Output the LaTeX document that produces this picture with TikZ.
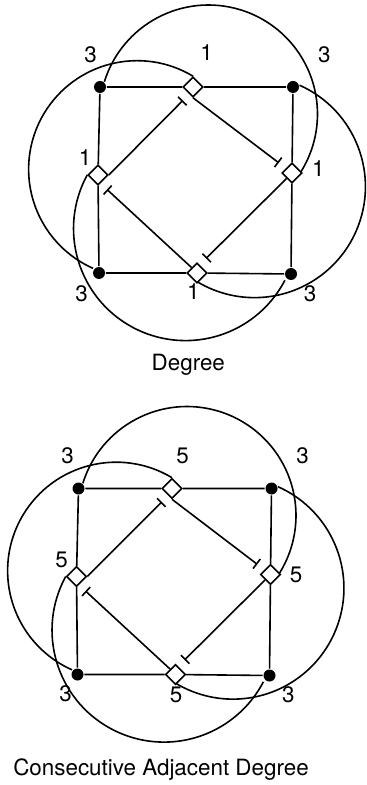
\documentclass[tikz,border=0pt]{standalone}
\usepackage{fontspec}
\setmainfont{TeX Gyre Heros}
\usetikzlibrary{shapes.geometric,arrows.meta}
\begin{document}
\begin{tikzpicture}[x=0.5pt, y=-0.5pt, line width=0.8pt,
  every node/.style={font=\fontsize{11.2}{13}\selectfont, inner sep=0pt},
  blob/.style={circle, fill=black, minimum size=6pt},
  gem/.style={diamond, draw, fill=white, minimum size=10pt},
  bar/.style={-{Bar[width=6pt]}, shorten >=4.5pt}]
\useasboundingbox (0,0) rectangle (366,785);
% Degree graph
\node[blob] (atl) at (100,87) {}; \node[blob] (atr) at (293,87) {};
\node[blob] (abl) at (99,273) {}; \node[blob] (abr) at (291,274) {};
\node[gem] (at) at (193,87) {}; \node[gem] (al) at (98,175) {};
\node[gem] (ar) at (292,173) {}; \node[gem] (ab) at (197,273) {};
\draw (atl) -- (at) -- (atr) -- (ar) -- (abr) -- (ab) -- (abl) -- (al) -- (atl);
\draw[bar] (al.east) -- (at.242); \draw[bar] (at.south) -- (ar.142);
\draw[bar] (ar.south west) -- (ab.72); \draw[bar] (ab.north west) -- (al.286);
% loops round the square
\draw (atl.50) arc[start angle=197.2, end angle=392, radius=109];
\draw (at.north) arc[start angle=-59, end angle=-246, radius=108.5];
\draw (atr.15) arc[start angle=-66, end angle=121, radius=111];
\draw (al.west) arc[start angle=208.6, end angle=27.5, radius=112];
\node (atl3) at (90.7,54.3) {3}; \node (at1) at (206.7,53) {1}; \node (atr3) at (324.3,54.3) {3};
\node (al1) at (85,158) {1}; \node (ar1) at (318.3,168.3) {1};
\node (abl3) at (81.7,293.3) {3}; \node (ab1) at (193.3,291.7) {1}; \node (abr3) at (310,293.3) {3};
\node[anchor=base] (acap) at (188.3,371) {Degree};
% Consecutive adjacent degree graph
\node[blob] (btl) at (78.5,488.5) {}; \node[blob] (btr) at (271.5,488.5) {};
\node[blob] (bbl) at (77.5,674.5) {}; \node[blob] (bbr) at (269.5,675.5) {};
\node[gem] (bt) at (172,488.5) {}; \node[gem] (bl) at (76.5,576.5) {};
\node[gem] (br) at (270.5,574.5) {}; \node[gem] (bb) at (175.5,674.5) {};
\draw (btl) -- (bt) -- (btr) -- (br) -- (bbr) -- (bb) -- (bbl) -- (bl) -- (btl);
\draw[bar] (bl.east) -- (bt.242); \draw[bar] (bt.south) -- (br.142);
\draw[bar] (br.south west) -- (bb.72); \draw[bar] (bb.north west) -- (bl.286);
% loops round the square
\draw (btl.50) arc[start angle=197.2, end angle=392, radius=109];
\draw (bt.north) arc[start angle=-59, end angle=-246, radius=108.5];
\draw (btr.15) arc[start angle=-66, end angle=121, radius=111];
\draw (bl.west) arc[start angle=208.6, end angle=27.5, radius=112];
\node (btl3) at (67.7,456) {3}; \node (bt5) at (182.7,456) {5}; \node (btr3) at (302.7,456) {3};
\node (bl5) at (61.7,560) {5}; \node (br5) at (296,575) {5};
\node (bbl3) at (65.7,693.3) {3}; \node (bb5) at (176,695) {5}; \node (bbr3) at (288.3,695) {3};
\node[anchor=base] (bcap) at (161,775) {Consecutive Adjacent Degree};
\end{tikzpicture}
\end{document}
